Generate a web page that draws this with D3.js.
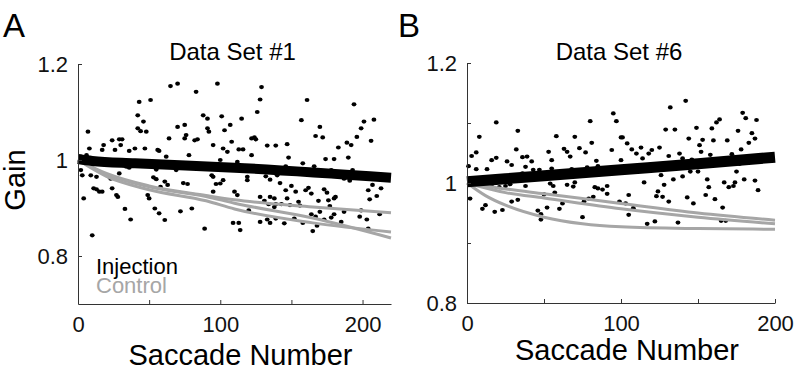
<!DOCTYPE html>
<html>
<head>
<meta charset="utf-8">
<script src="https://cdn.jsdelivr.net/npm/d3@7"></script>
<style>
  body { margin: 0; background: #fff; }
  svg { font-family: "Liberation Sans", Arial, sans-serif; }
</style>
</head>
<body>
<svg id="chart" width="796" height="373"></svg>
<script>
// titles, tick values
var titles = ["Data Set #1", "Data Set #6"]
var panelLetters = ["A", "B"]
var saccadeTicks = [0, 50, 100, 150, 200]
var saccadeLabels = [0, 100, 200]
var gainTicksA = [0.8, 1, 1.2]
var gainTicksB = [0.8, 0.9, 1, 1.1, 1.2]
var gainLabels = [0.8, 1, 1.2]
var legendNames = ["Injection", "Control"]

// single saccades, [saccade number, gain]
var dotsA = [[65,1.154],[70,1.159],[98,1.159],[83,1.142],[43,1.121],[51,1.125],[42,1.093],[46,1.080],[88,1.093],[91,1.086],
  [101,1.091],[42,1.066],[44,1.060],[48,1.059],[70,1.069],[75,1.073],[91,1.066],[92,1.059],[107,1.073],[103,1.062],
  [7,1.059],[76,1.052],[75,1.045],[82,1.041],[84,1.043],[64,1.045],[95,1.031],[108,1.038],[102,1.024],[105,1.017],
  [24,1.041],[29,1.043],[31,1.043],[18,1.031],[30,1.031],[8,1.024],[17,1.021],[26,1.021],[36,1.019],[40,1.024],
  [47,1.024],[56,1.021],[57,1.019],[78,1.010],[62,1.007],[100,1.000],[6,1.010],[2,1.007],
  [34,0.986],[36,0.984],[2,0.979],[3,0.968],[9,0.968],[13,0.965],[22,0.965],[23,0.961],[13,0.939],[15,0.934],
  [17,0.934],[11,0.941],[24,0.941],[27,0.927],[28,0.923],[4,0.920],[53,0.964],[55,0.960],[61,0.955],[58,0.944],
  [63,0.948],[74,0.952],[77,0.950],[95,0.965],[97,0.950],[100,0.951],[102,0.958],[95,0.934],[110,0.934],[49,0.927],
  [50,0.920],[33,0.898],[54,0.899],[57,0.889],[61,0.875],[37,0.876],[72,0.893],[80,0.899],[109,0.869],[89,0.857],
  [10,0.843],[55,0.980],[69,0.979],[29,0.972],[94,0.968],
  [129,1.152],[128,1.126],[126,1.100],[161,1.125],[194,1.116],[115,1.086],[157,1.083],[201,1.080],[208,1.084],[199,1.066],
  [170,1.069],[167,1.050],[172,1.047],[122,1.045],[124,1.047],[125,1.043],[206,1.040],[196,1.048],[189,1.036],[192,1.031],
  [113,1.022],[116,1.022],[133,1.030],[139,1.030],[147,1.033],[183,1.026],[190,1.005],[174,1.002],[180,1.002],[122,1.010],
  [148,1.005],[112,0.996],[158,0.993],[146,0.987],[166,0.987],[178,0.979],[193,0.979],[199,0.972],[207,0.968],[119,0.965],
  [119,0.958],[132,0.966],[140,0.968],[135,0.959],[142,0.952],[185,0.966],[191,0.957],[187,0.961],[210,0.961],[207,0.948],
  [213,0.941],[112,0.927],[128,0.923],[146,0.937],[150,0.946],[153,0.934],[160,0.937],[162,0.942],[164,0.930],[173,0.939],
  [175,0.932],[204,0.937],[205,0.918],[210,0.925],[131,0.915],[135,0.923],[138,0.920],[134,0.908],[139,0.908],[143,0.908],
  [149,0.906],[156,0.905],[147,0.920],[155,0.913],[169,0.915],[176,0.916],[181,0.923],[177,0.904],[180,0.920],[170,0.892],
  [164,0.887],[167,0.882],[180,0.887],[178,0.880],[187,0.892],[199,0.895],[198,0.882],[212,0.887],[120,0.895],[138,0.902],
  [113,0.869],[114,0.854],[128,0.871],[133,0.876],[139,0.878],[135,0.869],[145,0.868],[152,0.878],[158,0.869],[168,0.863],
  [173,0.876],[185,0.871],[203,0.876],[204,0.857],[165,0.852]]

var dotsB = [[19,1.101],[33,1.087],[8,1.077],[58,1.078],[70,1.077],[80,1.103],[95,1.116],[97,1.103],[100,1.076],[81,1.067],
  [32,1.056],[3,1.045],[6,1.051],[1,1.028],[6,1.023],[13,1.023],[16,1.038],[19,1.042],[26,1.036],[29,1.030],
  [36,1.043],[39,1.044],[42,1.036],[38,1.027],[43,1.022],[47,1.022],[53,1.052],[55,1.038],[63,1.057],[65,1.052],
  [67,1.044],[73,1.058],[77,1.051],[84,1.037],[85,1.028],[94,1.055],[100,1.038],[68,1.023],[78,1.026],[36,1.016],
  [55,1.024],[100,1.019],
  [2,0.974],[10,0.957],[12,0.963],[18,0.952],[23,0.955],[29,0.969],[33,0.972],[38,0.995],[16,0.994],[21,0.993],
  [25,0.995],[28,0.998],[14,1.008],[4,1.004],[50,0.981],[52,0.959],[46,0.954],[48,0.948],[48,0.939],[54,0.999],
  [56,0.995],[57,0.984],[60,0.957],[62,0.966],[65,0.997],[70,1.001],[69,0.994],[75,0.943],[76,0.969],[79,0.974],
  [82,0.977],[83,0.993],[85,0.991],[88,0.989],[91,0.995],[91,0.982],[99,0.969],
  [132,1.126],[142,1.137],[129,1.089],[135,1.089],[149,1.092],[159,1.091],[162,1.101],[164,1.106],[179,1.117],[181,1.108],
  [188,1.105],[176,1.087],[185,1.083],[183,1.067],[187,1.074],[101,1.076],[104,1.066],[107,1.056],[110,1.049],[113,1.059],
  [114,1.041],[118,1.049],[120,1.055],[125,1.059],[131,1.045],[138,1.049],[140,1.041],[144,1.074],[146,1.039],[152,1.052],
  [153,1.072],[151,1.063],[158,1.047],[160,1.071],[169,1.071],[172,1.048],[178,1.056],[177,1.032],
  [115,1.001],[128,0.997],[124,0.986],[123,0.978],[127,0.977],[105,0.980],[134,1.006],[140,1.011],[145,1.019],[150,1.019],
  [126,1.013],[156,1.006],[157,0.993],[155,0.980],[143,0.976],[147,0.966],[161,0.973],[167,1.001],[170,0.993],[173,0.995],
  [174,1.001],[175,1.019],[180,1.006],[187,1.004],[189,0.988],[166,0.959],[103,0.966],[108,0.958],[105,0.947],[117,0.932],
  [122,0.936],[137,0.934],[165,0.937],[168,0.937],[131,0.969]]

// fitted learning curves, read at a few saccade numbers
var injA = [[0,1.002],[10,0.998],[40,0.993],[110,0.984],[220,0.963]]
var ctrlA = [
  [[0,1.0],[20,0.972],[50,0.946],[90,0.926],[110,0.917],[165,0.902],[220,0.890]],
  [[0,1.0],[20,0.970],[50,0.944],[90,0.924],[110,0.910],[165,0.879],[220,0.8375]],
  [[0,1.0],[20,0.966],[50,0.938],[90,0.915],[110,0.898],[165,0.869],[220,0.850]]
]
var injB = [[0,1.002],[50,1.012],[100,1.022],[150,1.032],[200,1.043]]
var ctrlB = [
  [[0,1.0],[25,0.990],[50,0.982],[100,0.966],[150,0.950],[200,0.938]],
  [[0,1.0],[25,0.984],[50,0.975],[100,0.957],[150,0.943],[200,0.932]],
  [[0,1.0],[12,0.979],[25,0.963],[50,0.943],[75,0.932],[100,0.927],[150,0.924],[200,0.923]]
]

var svg = d3.select("#chart")
var grey = "#a6a6a6"

var panels = [
  {x: d3.scaleLinear().domain([0, 220]).range([78, 391]),
   y: d3.scaleLinear().domain([0.7, 1.2]).range([304, 64]),
   dots: dotsA, inj: injA, ctrl: ctrlA, gticks: gainTicksA, letterX: 3, xlabY: 365, band: 10},
  {x: d3.scaleLinear().domain([0, 200]).range([467, 775]),
   y: d3.scaleLinear().domain([0.8, 1.2]).range([303, 63]),
   dots: dotsB, inj: injB, ctrl: ctrlB, gticks: gainTicksB, letterX: 398, xlabY: 360, band: 11}
]

panels.forEach(function(p, i) {
  var g = svg.append("g")

  var line = d3.line()
      .x(function(d) { return p.x(d[0]) })
      .y(function(d) { return p.y(d[1]) })
      .curve(d3.curveMonotoneX)

  g.append("g").selectAll("ellipse")
    .data(p.dots)
    .enter()
    .append("ellipse")
    .attr("cx", function(d) { return p.x(d[0]) })
    .attr("cy", function(d) { return p.y(d[1]) })
    .attr("rx", 2.4)
    .attr("ry", 2.1)
    .attr("fill", "#000")

  g.selectAll(".ctrl")
    .data(p.ctrl)
    .enter()
    .append("path")
    .attr("class", "ctrl")
    .attr("d", line)
    .attr("fill", "none")
    .attr("stroke", grey)
    .attr("stroke-width", 3)

  g.append("path")
    .attr("d", line(p.inj))
    .attr("fill", "none")
    .attr("stroke", "#000")
    .attr("stroke-width", p.band)

  // axes, ticks pointing inwards like matlab
  var xAxis = d3.axisBottom(p.x)
      .tickValues(saccadeTicks)
      .tickSizeInner(-4)
      .tickSizeOuter(0)
      .tickPadding(12)
      .tickFormat(function(d) { return saccadeLabels.indexOf(d) >= 0 ? d : "" })
  var yAxis = d3.axisLeft(p.y)
      .tickValues(p.gticks)
      .tickSizeInner(-4)
      .tickSizeOuter(0)
      .tickPadding(10)
      .tickFormat(function(d) { return gainLabels.indexOf(d) >= 0 ? d3.format("")(d) : "" })

  var xg = g.append("g")
    .attr("transform", "translate(0," + p.y.range()[0] + ")")
    .call(xAxis)
  var yg = g.append("g")
    .attr("transform", "translate(" + p.x.range()[0] + ",0)")
    .call(yAxis)

  ;[xg, yg].forEach(function(a) {
    a.select(".domain").attr("stroke", "#333")
    a.selectAll(".tick line").attr("stroke", "#333")
    a.selectAll(".tick text").attr("font-size", 22).attr("fill", "#111")
      .attr("font-family", "Liberation Sans, Arial, sans-serif")
  })

  var mid = (p.x.range()[0] + p.x.range()[1]) / 2
  g.append("text")
    .attr("x", mid - 2)
    .attr("y", 60)
    .attr("text-anchor", "middle")
    .attr("font-size", 24)
    .text(titles[i])

  g.append("text")
    .attr("x", mid + 6)
    .attr("y", p.xlabY)
    .attr("text-anchor", "middle")
    .attr("font-size", 29)
    .text("Saccade Number")

  g.append("text")
    .attr("x", p.letterX)
    .attr("y", 37)
    .attr("font-size", 33)
    .text(panelLetters[i])
})

// y label only on the left panel
svg.append("text")
  .attr("transform", "translate(25,180) rotate(-90)")
  .attr("text-anchor", "middle")
  .attr("font-size", 29)
  .text("Gain")

// legend
svg.selectAll(".legend")
  .data(legendNames)
  .enter()
  .append("text")
  .attr("class", "legend")
  .attr("x", 96)
  .attr("y", function(d, i) { return 274 + i * 19 })
  .attr("font-size", 22)
  .attr("fill", function(d, i) { return i == 0 ? "#000" : grey })
  .text(function(d) { return d })
</script>
</body>
</html>
